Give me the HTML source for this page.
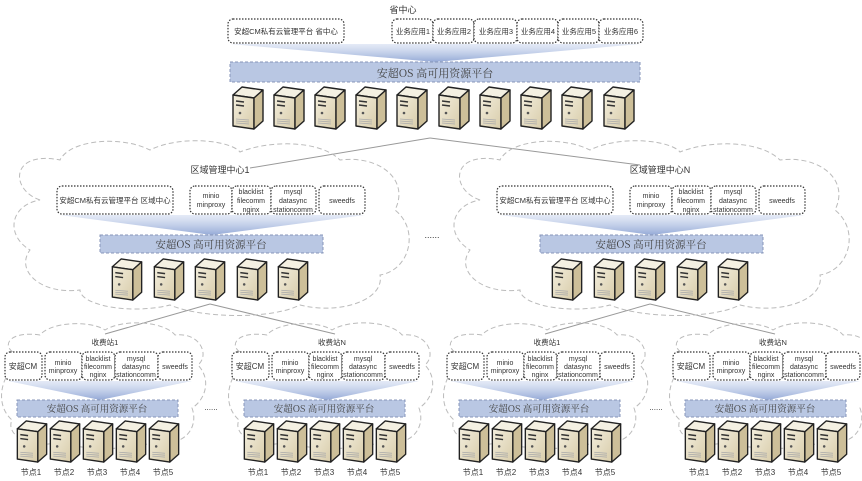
<!DOCTYPE html>
<html><head><meta charset="utf-8"><style>
html,body{margin:0;padding:0;background:#fff;}
svg{display:block;}
text{font-family:"Liberation Sans","Noto Sans CJK SC",sans-serif;fill:#333;}
.pf{font-family:"Noto Serif CJK SC","Liberation Serif",serif;fill:#444;}
.bx{fill:#fff;stroke:#333;stroke-width:1.2;stroke-dasharray:1.5 1.5;}
.bar{fill:#b9c7e3;stroke:#8796b8;stroke-width:1;stroke-dasharray:3 2;}
.cl{fill:none;stroke:#bbb;stroke-width:1;stroke-dasharray:5 3;}
.ln{stroke:#999;stroke-width:1;}
</style></head><body>
<svg width="862" height="481" viewBox="0 0 862 481" xmlns="http://www.w3.org/2000/svg">
<defs>
<linearGradient id="fg" x1="0" y1="0" x2="0" y2="1">
<stop offset="0" stop-color="#c9d5ee" stop-opacity="0.5"/>
<stop offset="1" stop-color="#8fa5d4" stop-opacity="0.95"/>
</linearGradient>
<linearGradient id="fr" x1="0" y1="0" x2="1" y2="1">
<stop offset="0" stop-color="#f3eedd"/><stop offset="1" stop-color="#d8ccaa"/>
</linearGradient>
<symbol id="srv" viewBox="0 0 32 44">
<polygon points="1,9 10,1 31,4 22,12" fill="#f4f0e2" stroke="#222" stroke-width="1.4" stroke-linejoin="round"/>
<polygon points="1,9 22,12 22,43 1,40" fill="url(#fr)" stroke="#222" stroke-width="1.4" stroke-linejoin="round"/>
<polygon points="22,12 31,4 31,35 22,43" fill="#cdbf99" stroke="#222" stroke-width="1.4" stroke-linejoin="round"/>
<line x1="4" y1="15" x2="12" y2="16" stroke="#333" stroke-width="1.5"/>
<line x1="4" y1="19" x2="12" y2="20" stroke="#333" stroke-width="1.5"/>
<circle cx="8" cy="27" r="1.3" fill="#555"/>
<line x1="4" y1="33" x2="17" y2="34" stroke="#aaa" stroke-width="0.8"/>
<line x1="4" y1="35" x2="17" y2="36" stroke="#aaa" stroke-width="0.8"/>
<line x1="4" y1="37" x2="17" y2="38" stroke="#aaa" stroke-width="0.8"/>
</symbol>
<path id="cloudR" class="cl" d="M40,200 C10,190 10,150 60,160 C70,140 120,135 150,150 C180,135 230,140 240,152 C270,140 320,140 340,160 C380,155 410,180 395,210 C420,230 410,270 380,275 C385,300 340,315 300,305 C270,320 200,318 170,305 C130,315 80,305 80,290 C40,295 15,270 30,250 C5,235 10,205 40,200 Z"/>
<path id="cloudS" class="cl" d="M20,355 C0,350 5,330 40,335 C50,322 90,320 105,330 C125,318 165,322 175,335 C200,332 210,355 198,365 C212,380 205,400 192,408 C200,430 180,448 160,440 C130,452 80,450 60,442 C30,450 5,435 12,420 C-5,405 2,380 10,372 C0,365 5,355 20,355 Z"/>
<g id="stbody">
<use href="#cloudS"/>
<rect class="bx" x="5" y="352" width="37" height="28" rx="5"/>
<rect class="bx" x="45" y="352" width="37" height="28" rx="5"/>
<rect class="bx" x="82" y="352" width="33" height="28" rx="5"/>
<rect class="bx" x="115" y="352" width="43" height="28" rx="5"/>
<rect class="bx" x="158" y="352" width="34" height="28" rx="5"/>
<polygon points="8,381 192,381 100,400" fill="url(#fg)"/>
<rect class="bar" x="17" y="400" width="161" height="17"/>
<use href="#srv" x="16" y="420" width="32" height="43"/>
<use href="#srv" x="49" y="420" width="32" height="43"/>
<use href="#srv" x="82" y="420" width="32" height="43"/>
<use href="#srv" x="115" y="420" width="32" height="43"/>
<use href="#srv" x="148" y="420" width="32" height="43"/>
</g>
</defs>

<line class="ln" x1="430" y1="138" x2="250" y2="168"/>
<line class="ln" x1="430" y1="138" x2="640" y2="165"/>
<line class="ln" x1="210" y1="304" x2="105" y2="334"/>
<line class="ln" x1="210" y1="304" x2="335" y2="334"/>
<line class="ln" x1="650" y1="304" x2="545" y2="334"/>
<line class="ln" x1="650" y1="304" x2="775" y2="334"/>

<text x="403" y="13" font-size="9" text-anchor="middle">省中心</text>
<rect class="bx" x="228" y="19" width="116" height="24" rx="5"/>
<text x="286" y="34" font-size="7.5" text-anchor="middle">安超CM私有云管理平台 省中心</text>
<rect class="bx" x="392" y="19" width="41" height="24" rx="5"/>
<rect class="bx" x="433" y="19" width="41" height="24" rx="5"/>
<rect class="bx" x="474" y="19" width="43" height="24" rx="5"/>
<rect class="bx" x="517" y="19" width="41" height="24" rx="5"/>
<rect class="bx" x="558" y="19" width="41" height="24" rx="5"/>
<rect class="bx" x="599" y="19" width="44" height="24" rx="5"/>
<g font-size="7.5" text-anchor="middle">
<text x="413" y="34">业务应用1</text><text x="454" y="34">业务应用2</text><text x="496" y="34">业务应用3</text>
<text x="538" y="34">业务应用4</text><text x="579" y="34">业务应用5</text><text x="621" y="34">业务应用6</text>
</g>
<polygon points="230,44 640,44 435,62" fill="url(#fg)"/>
<rect class="bar" x="230" y="62" width="410" height="20"/>
<text class="pf" x="435" y="77" font-size="11" text-anchor="middle">安超OS 高可用资源平台</text>
<g>
<use href="#srv" x="232" y="86" width="32" height="44"/>
<use href="#srv" x="273" y="86" width="32" height="44"/>
<use href="#srv" x="314" y="86" width="32" height="44"/>
<use href="#srv" x="355" y="86" width="32" height="44"/>
<use href="#srv" x="396" y="86" width="32" height="44"/>
<use href="#srv" x="438" y="86" width="32" height="44"/>
<use href="#srv" x="479" y="86" width="32" height="44"/>
<use href="#srv" x="520" y="86" width="32" height="44"/>
<use href="#srv" x="561" y="86" width="32" height="44"/>
<use href="#srv" x="603" y="86" width="32" height="44"/>
</g>

<g>
<use href="#cloudR"/>
<text x="220" y="173" font-size="9" text-anchor="middle">区域管理中心1</text>
<rect class="bx" x="57" y="186" width="116" height="28" rx="5"/>
<text x="115" y="203" font-size="7.5" text-anchor="middle">安超CM私有云管理平台 区域中心</text>
<rect class="bx" x="190" y="186" width="42" height="28" rx="5"/>
<rect class="bx" x="232" y="186" width="39" height="28" rx="5"/>
<rect class="bx" x="271" y="186" width="45" height="28" rx="5"/>
<rect class="bx" x="319" y="186" width="46" height="28" rx="5"/>
<g font-size="7" text-anchor="middle">
<text x="211" y="198">minio</text><text x="211" y="207">minproxy</text>
<text x="251" y="194">blacklist</text><text x="251" y="203">filecomm</text><text x="251" y="212">nginx</text>
<text x="293" y="194">mysql</text><text x="293" y="203">datasync</text><text x="293" y="212">stationcomm</text>
<text x="342" y="203">sweedfs</text>
</g>
<polygon points="60,215 365,215 212,235" fill="url(#fg)"/>
<rect class="bar" x="100" y="235" width="223" height="18"/>
<text class="pf" x="211" y="248" font-size="10.5" text-anchor="middle">安超OS 高可用资源平台</text>
<use href="#srv" x="111" y="258" width="32" height="43"/>
<use href="#srv" x="153" y="258" width="32" height="43"/>
<use href="#srv" x="194" y="258" width="32" height="43"/>
<use href="#srv" x="236" y="258" width="32" height="43"/>
<use href="#srv" x="277" y="258" width="32" height="43"/>
</g>
<text x="432" y="238" font-size="9" text-anchor="middle">......</text>

<g transform="translate(440,0)">
<use href="#cloudR"/>
<text x="220" y="173" font-size="9" text-anchor="middle">区域管理中心N</text>
<rect class="bx" x="57" y="186" width="116" height="28" rx="5"/>
<text x="115" y="203" font-size="7.5" text-anchor="middle">安超CM私有云管理平台 区域中心</text>
<rect class="bx" x="190" y="186" width="42" height="28" rx="5"/>
<rect class="bx" x="232" y="186" width="39" height="28" rx="5"/>
<rect class="bx" x="271" y="186" width="45" height="28" rx="5"/>
<rect class="bx" x="319" y="186" width="46" height="28" rx="5"/>
<g font-size="7" text-anchor="middle">
<text x="211" y="198">minio</text><text x="211" y="207">minproxy</text>
<text x="251" y="194">blacklist</text><text x="251" y="203">filecomm</text><text x="251" y="212">nginx</text>
<text x="293" y="194">mysql</text><text x="293" y="203">datasync</text><text x="293" y="212">stationcomm</text>
<text x="342" y="203">sweedfs</text>
</g>
<polygon points="60,215 365,215 212,235" fill="url(#fg)"/>
<rect class="bar" x="100" y="235" width="223" height="18"/>
<text class="pf" x="211" y="248" font-size="10.5" text-anchor="middle">安超OS 高可用资源平台</text>
<use href="#srv" x="111" y="258" width="32" height="43"/>
<use href="#srv" x="153" y="258" width="32" height="43"/>
<use href="#srv" x="194" y="258" width="32" height="43"/>
<use href="#srv" x="236" y="258" width="32" height="43"/>
<use href="#srv" x="277" y="258" width="32" height="43"/>
</g>

<g transform="translate(0,0)">
<use href="#stbody"/>
<text x="105" y="345" font-size="7.5" text-anchor="middle">收费站1</text>
<g font-size="7" text-anchor="middle">
<text x="23" y="369" font-size="8">安超CM</text>
<text x="63" y="365">minio</text><text x="63" y="373">minproxy</text>
<text x="98" y="361">blacklist</text><text x="98" y="369">filecomm</text><text x="98" y="377">nginx</text>
<text x="136" y="361">mysql</text><text x="136" y="369">datasync</text><text x="136" y="377">stationcomm</text>
<text x="175" y="369">sweedfs</text>
</g>
<text class="pf" x="97" y="412" font-size="9.5" text-anchor="middle">安超OS 高可用资源平台</text>
<g font-size="8" text-anchor="middle">
<text x="31" y="475">节点1</text><text x="64" y="475">节点2</text><text x="97" y="475">节点3</text><text x="130" y="475">节点4</text><text x="163" y="475">节点5</text>
</g>
</g>
<g transform="translate(227,0)">
<use href="#stbody"/>
<text x="105" y="345" font-size="7.5" text-anchor="middle">收费站N</text>
<g font-size="7" text-anchor="middle">
<text x="23" y="369" font-size="8">安超CM</text>
<text x="63" y="365">minio</text><text x="63" y="373">minproxy</text>
<text x="98" y="361">blacklist</text><text x="98" y="369">filecomm</text><text x="98" y="377">nginx</text>
<text x="136" y="361">mysql</text><text x="136" y="369">datasync</text><text x="136" y="377">stationcomm</text>
<text x="175" y="369">sweedfs</text>
</g>
<text class="pf" x="97" y="412" font-size="9.5" text-anchor="middle">安超OS 高可用资源平台</text>
<g font-size="8" text-anchor="middle">
<text x="31" y="475">节点1</text><text x="64" y="475">节点2</text><text x="97" y="475">节点3</text><text x="130" y="475">节点4</text><text x="163" y="475">节点5</text>
</g>
</g>
<g transform="translate(442,0)">
<use href="#stbody"/>
<text x="105" y="345" font-size="7.5" text-anchor="middle">收费站1</text>
<g font-size="7" text-anchor="middle">
<text x="23" y="369" font-size="8">安超CM</text>
<text x="63" y="365">minio</text><text x="63" y="373">minproxy</text>
<text x="98" y="361">blacklist</text><text x="98" y="369">filecomm</text><text x="98" y="377">nginx</text>
<text x="136" y="361">mysql</text><text x="136" y="369">datasync</text><text x="136" y="377">stationcomm</text>
<text x="175" y="369">sweedfs</text>
</g>
<text class="pf" x="97" y="412" font-size="9.5" text-anchor="middle">安超OS 高可用资源平台</text>
<g font-size="8" text-anchor="middle">
<text x="31" y="475">节点1</text><text x="64" y="475">节点2</text><text x="97" y="475">节点3</text><text x="130" y="475">节点4</text><text x="163" y="475">节点5</text>
</g>
</g>
<g transform="translate(668,0)">
<use href="#stbody"/>
<text x="105" y="345" font-size="7.5" text-anchor="middle">收费站N</text>
<g font-size="7" text-anchor="middle">
<text x="23" y="369" font-size="8">安超CM</text>
<text x="63" y="365">minio</text><text x="63" y="373">minproxy</text>
<text x="98" y="361">blacklist</text><text x="98" y="369">filecomm</text><text x="98" y="377">nginx</text>
<text x="136" y="361">mysql</text><text x="136" y="369">datasync</text><text x="136" y="377">stationcomm</text>
<text x="175" y="369">sweedfs</text>
</g>
<text class="pf" x="97" y="412" font-size="9.5" text-anchor="middle">安超OS 高可用资源平台</text>
<g font-size="8" text-anchor="middle">
<text x="31" y="475">节点1</text><text x="64" y="475">节点2</text><text x="97" y="475">节点3</text><text x="130" y="475">节点4</text><text x="163" y="475">节点5</text>
</g>
</g>
<text x="211" y="410" font-size="8" text-anchor="middle">......</text>
<text x="656" y="410" font-size="8" text-anchor="middle">......</text>
</svg>
</body></html>
